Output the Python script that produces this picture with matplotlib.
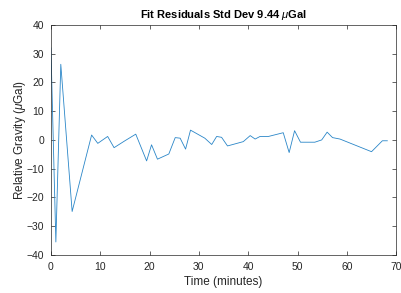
import matplotlib
matplotlib.use("Agg")
import matplotlib.pyplot as plt

# residuals
time_min = [0.0, 1.0, 2.0, 4.3, 8.25, 9.5, 11.5, 12.8, 15.0, 17.2, 19.4, 20.4, 21.6,
            23.9, 25.2, 26.2, 27.3, 28.3, 31.2, 32.6, 33.6, 34.6, 35.8, 39.0, 40.4,
            41.4, 42.4, 44.1, 47.1, 48.3, 49.4, 50.6, 53.5, 54.9, 56.0, 57.1, 58.6,
            65.0, 67.2, 68.2]
residual = [32.0, -35.5, 26.3, -24.9, 1.7, -1.2, 1.2, -2.7, -0.3, 2.0, -7.3, -1.7, -6.7,
            -4.9, 0.8, 0.6, -3.2, 3.4, 0.6, -1.6, 1.2, 0.9, -2.1, -0.6, 1.5,
            0.3, 1.2, 1.2, 2.5, -4.4, 3.2, -0.8, -0.8, 0.0, 2.7, 0.8, 0.3,
            -4.1, -0.3, -0.3]

plt.rcParams['font.family'] = ['Liberation Sans', 'DejaVu Sans']
plt.rcParams['mathtext.fontset'] = 'custom'
plt.rcParams['mathtext.it'] = 'Liberation Sans:italic'

fig = plt.figure(figsize=(4.01, 2.93), dpi=100)
ax = fig.add_axes([0.127, 0.130, 0.861, 0.785])
ax.plot(time_min, residual, color='#2a86c8', linewidth=0.6)

ax.set_xlim(0, 70)
ax.set_ylim(-40, 40)
ax.set_xticks(range(0, 71, 10))
ax.set_yticks(range(-40, 41, 10))
ax.tick_params(direction='in', length=3, width=0.5, colors='#262626',
               labelsize=7.5, top=True, right=True, pad=5)
for s in ax.spines.values():
    s.set_linewidth(0.5)
    s.set_color('#262626')

ax.set_title(r'Fit Residuals Std Dev 9.44 $\mu$Gal', fontsize=8,
             fontweight='bold', pad=5)
ax.set_xlabel('Time (minutes)', fontsize=8.5, color='#262626', labelpad=3)
ax.set_ylabel(r'Relative Gravity ($\mu$Gal)', fontsize=8.5, color='#262626', labelpad=-1)

fig.savefig('out.png', dpi=100)
